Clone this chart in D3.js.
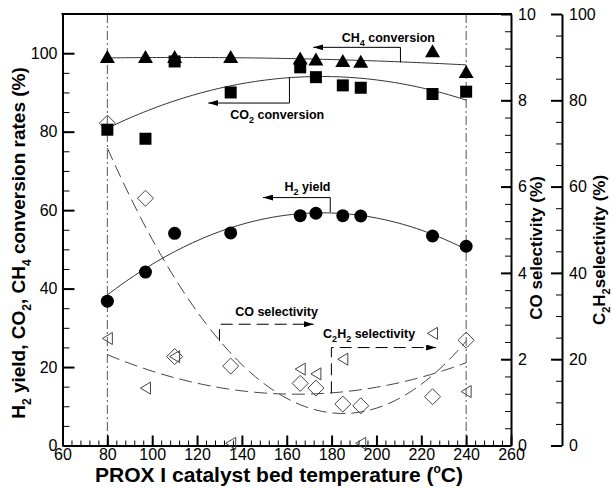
<!DOCTYPE html>
<meta charset="utf-8">
<style>
body { margin:0; background:#fff; }
text { font-family: "Liberation Sans", Arial, Helvetica, sans-serif; fill:#000; }
.tick text { font-size:16px; }
.title { font-weight:bold; font-size:17px; }
.note { font-weight:bold; font-size:12.5px; }
</style>
<body>
<script src="https://d3js.org/d3.v7.min.js"></script>
<script>

// PROX I catalyst bed temperatures (C)
var temps = [80, 97, 110, 135, 166, 173, 185, 193, 225, 240];
// left axis series (%)
var h2Yield = [36.8, 44.2, 54.1, 54.2, 58.6, 59.2, 58.6, 58.5, 53.4, 50.8];
var co2Conv = [80.5, 78.2, 97.9, 90.0, 96.4, 93.9, 91.8, 91.2, 89.6, 90.2];
var ch4Conv = [98.9, 98.9, 98.9, 98.9, 98.5, 98.3, 97.9, 97.7, 100.4, 95.1];
// right axes series (%)
var coSel = [7.47, 5.73, 2.06, 1.84, 1.44, 1.33, 0.96, 0.92, 1.13, 2.44];
var c2h2Sel = [24.8, 13.3, 20.6, 0.5, 17.7, 16.6, 20.0, 0.5, 26.0, 12.5];

var xTicks = d3.range(60, 261, 20);
var yTicks = d3.range(0, 101, 20);
var coTicks = d3.range(0, 11, 2);
var c2h2Ticks = d3.range(0, 101, 20);

var width = 612, height = 488;
var pL = 62.5, pR = 511, pT = 14, pB = 445.5;

var svg = d3.select("body").append("svg")
  .attr("width", width)
  .attr("height", height);

var x = d3.scaleLinear().domain([60, 260]).range([pL, pR]);
var y = d3.scaleLinear().domain([0, 110]).range([pB, pT]);
var yCO = d3.scaleLinear().domain([0, 10]).range([pB, pT]);
var yC2 = d3.scaleLinear().domain([0, 100]).range([pB, pT]);

var defs = svg.append("defs");
defs.append("marker")
  .attr("id", "arrow")
  .attr("viewBox", "0 0 10 6")
  .attr("refX", 10).attr("refY", 3)
  .attr("markerWidth", 10).attr("markerHeight", 6)
  .attr("markerUnits", "userSpaceOnUse")
  .attr("orient", "auto")
  .append("path").attr("d", "M0,0L10,3L0,6Z").attr("fill", "#000");

// quadratic least squares, x centred at 160
function quadFit(xs, ys) {
  var s = [0, 0, 0, 0, 0], t = [0, 0, 0];
  xs.forEach(function(xv, i) {
    var u = xv - 160, p = 1;
    for (var k = 0; k < 5; k++) {
      s[k] += p;
      if (k < 3) t[k] += p * ys[i];
      p *= u;
    }
  });
  var m = [[s[0], s[1], s[2], t[0]], [s[1], s[2], s[3], t[1]], [s[2], s[3], s[4], t[2]]];
  for (var i = 0; i < 3; i++) {
    for (var j = i + 1; j < 3; j++) {
      var f = m[j][i] / m[i][i];
      for (var k = i; k < 4; k++) m[j][k] -= f * m[i][k];
    }
  }
  var c = [0, 0, 0];
  for (var i = 2; i >= 0; i--) {
    var v = m[i][3];
    for (var k = i + 1; k < 3; k++) v -= m[i][k] * c[k];
    c[i] = v / m[i][i];
  }
  return function(xv) { var u = xv - 160; return c[0] + c[1] * u + c[2] * u * u; };
}

var fitX = d3.range(80, 240.01, 2);

function fitLine(vals, scale, dashed) {
  var f = quadFit(temps, vals);
  svg.append("path")
    .datum(fitX)
    .attr("fill", "none")
    .attr("stroke", dashed ? "#444" : "#333")
    .attr("stroke-width", 1)
    .attr("stroke-dasharray", dashed ? "13,6" : null)
    .attr("d", d3.line().x(function(d) { return x(d); }).y(function(d) { return scale(f(d)); }));
}

// dash-dot reference lines
[80, 240].forEach(function(t) {
  svg.append("line")
    .attr("x1", x(t)).attr("x2", x(t))
    .attr("y1", pT).attr("y2", pB)
    .attr("stroke", "#555").attr("stroke-width", 1)
    .attr("stroke-dasharray", "9,3,2,3");
});

fitLine(ch4Conv, y, false);
fitLine(co2Conv, y, false);
fitLine(h2Yield, y, false);
fitLine(coSel, yCO, true);
fitLine(c2h2Sel, yC2, true);

// axes
function styleAxis(g) {
  g.select(".domain").attr("stroke", "#000").attr("stroke-width", 2);
  g.selectAll(".tick line").attr("stroke", "#000").attr("stroke-width", 2);
  g.selectAll(".tick text").attr("fill", "#000").style("font-family", '"Liberation Sans", Arial, sans-serif');
}
function minor(g) {
  g.select(".domain").remove();
  g.selectAll(".tick line").attr("stroke", "#000").attr("stroke-width", 1);
}

svg.append("g").attr("transform", "translate(0," + pB + ")")
  .call(d3.axisBottom(x).tickValues(d3.range(60, 261, 4)).tickSize(-5).tickFormat("")).call(minor);
svg.append("g").attr("transform", "translate(0," + pB + ")")
  .call(d3.axisBottom(x).tickValues(xTicks).tickSize(-10).tickSizeOuter(0).tickPadding(3)).call(styleAxis);

svg.append("g").attr("transform", "translate(" + pL + ",0)")
  .call(d3.axisLeft(y).tickValues(d3.range(5, 100, 5)).tickSize(-7).tickFormat("")).call(minor);
svg.append("g").attr("transform", "translate(" + pL + ",0)")
  .call(d3.axisLeft(y).tickValues(yTicks).tickSize(-12).tickSizeOuter(0).tickPadding(5)).call(styleAxis);

svg.append("g").attr("transform", "translate(" + pR + ",0)")
  .call(d3.axisRight(yCO).tickValues(d3.range(0.4, 10, 0.4)).tickSize(-6).tickFormat("")).call(minor);
svg.append("g").attr("transform", "translate(" + pR + ",0)")
  .call(d3.axisRight(yCO).tickValues(coTicks).tickSize(-10).tickSizeOuter(0).tickPadding(7)).call(styleAxis);

svg.append("g").attr("transform", "translate(562,0)")
  .call(d3.axisRight(yC2).tickValues(d3.range(5, 100, 5)).tickSize(-6).tickFormat("")).call(minor);
svg.append("g").attr("transform", "translate(562,0)")
  .call(d3.axisRight(yC2).tickValues(c2h2Ticks).tickSize(-11).tickSizeOuter(0).tickPadding(7)).call(styleAxis);

svg.append("line")
  .attr("x1", pL - 1).attr("x2", pR + 1).attr("y1", pT).attr("y2", pT)
  .attr("stroke", "#000").attr("stroke-width", 2);

// markers
function pts(vals, scale) {
  return temps.map(function(t, i) { return [x(t), scale(vals[i])]; });
}

svg.append("g").selectAll("path").data(pts(coSel, yCO)).enter().append("path")
  .attr("transform", function(d) { return "translate(" + d[0] + "," + d[1] + ")"; })
  .attr("d", "M-8,0L0,-8L8,0L0,8Z")
  .attr("fill", "none").attr("stroke", "#444").attr("stroke-width", 1);

svg.append("g").selectAll("path").data(pts(c2h2Sel, yC2)).enter().append("path")
  .attr("transform", function(d) { return "translate(" + d[0] + "," + d[1] + ")"; })
  .attr("d", "M-5,0L5,-6L5,6Z")
  .attr("fill", "none").attr("stroke", "#444").attr("stroke-width", 1);

svg.append("g").selectAll("rect").data(pts(co2Conv, y)).enter().append("rect")
  .attr("x", function(d) { return d[0] - 6; })
  .attr("y", function(d) { return d[1] - 6; })
  .attr("width", 12).attr("height", 12)
  .attr("fill", "#000");

svg.append("g").selectAll("path").data(pts(ch4Conv, y)).enter().append("path")
  .attr("transform", function(d) { return "translate(" + d[0] + "," + d[1] + ")"; })
  .attr("d", "M0,-7.5L7.5,5.5L-7.5,5.5Z")
  .attr("fill", "#000");

svg.append("g").selectAll("circle").data(pts(h2Yield, y)).enter().append("circle")
  .attr("cx", function(d) { return d[0]; })
  .attr("cy", function(d) { return d[1]; })
  .attr("r", 6.5)
  .attr("fill", "#000");

// text with subscripts: parts = [[text, isSub], ...]
function rich(sel, parts, big, small) {
  var shift = 0;
  parts.forEach(function(p) {
    var want = p[1] ? Math.round(big * 0.3) : 0;
    var ts = sel.append("tspan").attr("dy", want - shift).text(p[0]);
    if (p[1]) ts.style("font-size", small + "px");
    shift = want;
  });
  return sel;
}

// annotations (positions in data coordinates)
function note(tx, ty, parts) {
  return rich(svg.append("text").attr("class", "note").attr("x", x(tx)).attr("y", ty), parts, 12.5, 9);
}
function arrow(path, scale, dashed) {
  svg.append("path")
    .attr("d", d3.line().x(function(d) { return x(d[0]); }).y(function(d) { return scale(d[1]); })(path))
    .attr("fill", "none").attr("stroke", "#000").attr("stroke-width", 1)
    .attr("stroke-dasharray", dashed ? "12,6" : null)
    .attr("marker-end", "url(#arrow)");
}

note(184.5, 42, [["CH", 0], ["4", 1], [" conversion", 0]]);
arrow([[210.7, 97.7], [210.7, 101.5], [171.8, 101.5]], y, false);

note(134.8, 119, [["CO", 0], ["2", 1], [" conversion", 0]]);
arrow([[161.2, 93.8], [161.2, 87.3], [125, 87.3]], y, false);

note(159, 191, [["H", 0], ["2", 1], [" yield", 0]]);
arrow([[179.4, 59.5], [179.4, 63.2], [149.4, 63.2]], y, false);

note(137, 316, [["CO selectivity", 0]]);
arrow([[130, 2.42], [130, 2.81], [172, 2.81]], yCO, true);

note(176.2, 338, [["C", 0], ["2", 1], ["H", 0], ["2", 1], [" selectivity", 0]]);
arrow([[179.9, 12.1], [179.9, 22.7], [226.6, 22.7]], yC2, true);

// axis titles
var xt = svg.append("text").attr("class", "title")
  .attr("x", 279).attr("y", 482).attr("text-anchor", "middle")
  .style("font-size", "21px");
xt.append("tspan").text("PROX I catalyst bed temperature (");
xt.append("tspan").attr("dy", -9).style("font-size", "12px").text("o");
xt.append("tspan").attr("dy", 9).text("C)");

rich(svg.append("text").attr("class", "title")
  .style("font-size", "19px")
  .attr("transform", "translate(25,243) rotate(-90)")
  .attr("text-anchor", "middle"),
  [["H", 0], ["2", 1], [" yield, CO", 0], ["2", 1], [", CH", 0], ["4", 1], [" conversion rates (%)", 0]], 19, 12);

svg.append("text").attr("class", "title")
  .attr("transform", "translate(542,248) rotate(-90)")
  .attr("text-anchor", "middle")
  .text("CO selectivity (%)");

rich(svg.append("text").attr("class", "title")
  .attr("transform", "translate(605,250) rotate(-90)")
  .attr("text-anchor", "middle"),
  [["C", 0], ["2", 1], ["H", 0], ["2", 1], ["selectivity (%)", 0]], 17, 11);

</script>
